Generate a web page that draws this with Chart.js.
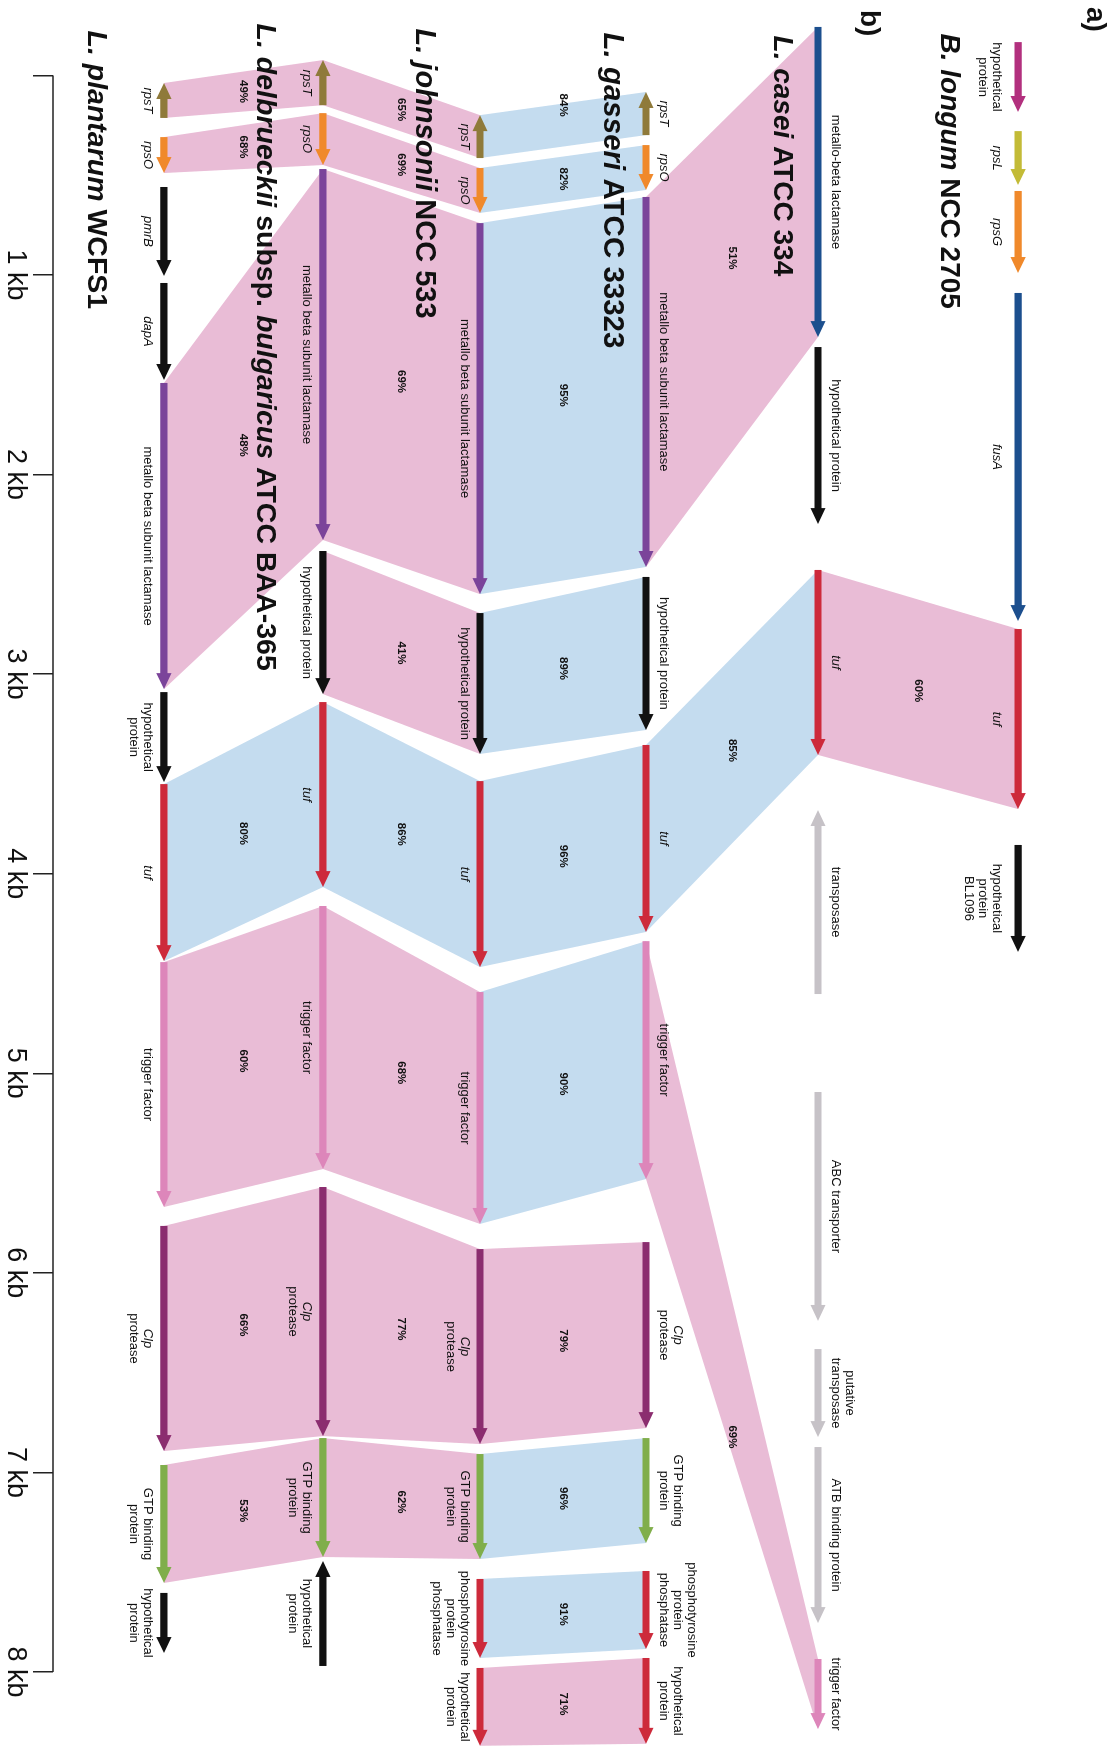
<!DOCTYPE html>
<html><head><meta charset="utf-8">
<script src="https://cdn.jsdelivr.net/npm/chart.js@4.4.1/dist/chart.umd.min.js"></script>
<style>
html,body{margin:0;padding:0;background:#fff;}
#wrap{position:relative;width:1119px;height:1746px;overflow:hidden;background:#fff;}
#c{position:absolute;left:1119px;top:0;transform-origin:0 0;transform:rotate(90deg);}
</style></head><body>
<div id="wrap"><canvas id="c" width="1746" height="1119"></canvas></div>
<script>
// ================= DATA =================
const kbTicks = [0, 1, 2, 3, 4, 5, 6, 7, 8];

const titleParts = [
  [['B. longum', 1], [' NCC 2705', 0]],
  [['L. casei', 1], [' ATCC 334', 0]],
  [['L. gasseri', 1], [' ATCC 33323', 0]],
  [['L. johnsonii', 1], [' NCC 533', 0]],
  [['L. delbrueckii', 1], [' subsp. ', 0], ['bulgaricus', 1], [' ATCC BAA-365', 0]],
  [['L. plantarum', 1], [' WCFS1', 0]]
];

// B. longum NCC 2705
const longumStart = [-0.167, 0.279, 0.579, 1.090, 2.774, 3.856];
const longumEnd   = [0.183, 0.549, 0.990, 2.734, 3.676, 4.392];
const longumType  = ['hyp', 'rpsL', 'rps', 'nav', 'tuf', 'blk'];
const longumDir   = [1, 1, 1, 1, 1, 1];
const longumLabel = ['hypothetical\nprotein', '*rpsL*', '*rpsG*', '*fusA*', '*tuf*', 'hypothetical\nprotein\nBL1096'];

// L. casei ATCC 334
const caseiStart = [-0.243, 1.361, 2.478, 3.681, 5.094, 6.382, 6.873, 7.935];
const caseiEnd   = [1.311, 2.248, 3.405, 4.603, 6.241, 6.823, 7.755, 8.286];
const caseiType  = ['nav', 'blk', 'tuf', 'gry', 'gry', 'gry', 'gry', 'tf'];
const caseiDir   = [1, 1, 1, -1, 1, 1, 1, 1];
const caseiLabel = ['metallo-beta lactamase', 'hypothetical protein', '*tuf*', 'transposase', 'ABC transporter', 'putative\ntransposase', 'ATB binding protein', 'trigger factor'];

// L. gasseri ATCC 33323
const gasseriStart = [0.083, 0.349, 0.609, 2.513, 3.355, 4.338, 5.846, 6.828, 7.494, 7.930];
const gasseriEnd   = [0.299, 0.574, 2.463, 3.280, 4.292, 5.530, 6.778, 7.354, 7.885, 8.36];
const gasseriType  = ['rpsT', 'rps', 'mbl', 'blk', 'tuf', 'tf', 'clp', 'gtp', 'tuf', 'tuf'];
const gasseriDir   = [-1, 1, 1, 1, 1, 1, 1, 1, 1, 1];
const gasseriLabel = ['*rpsT*', '*rpsO*', 'metallo beta subunit lactamase', 'hypothetical protein', '*tuf*', 'trigger factor', '*Clp*\nprotease', 'GTP binding\nprotein', 'phosphotyrosine\nprotein\nphosphatase', 'hypothetical\nprotein'];

// L. johnsonii NCC 533
const johnsoniiStart = [0.199, 0.464, 0.740, 2.694, 3.536, 4.593, 5.881, 6.908, 7.534, 7.980];
const johnsoniiEnd   = [0.414, 0.689, 2.599, 3.400, 4.468, 5.755, 6.858, 7.434, 7.930, 8.37];
const johnsoniiType  = ['rpsT', 'rps', 'mbl', 'blk', 'tuf', 'tf', 'clp', 'gtp', 'tuf', 'tuf'];
const johnsoniiDir   = [-1, 1, 1, 1, 1, 1, 1, 1, 1, 1];
const johnsoniiLabel = ['*rpsT*', '*rpsO*', 'metallo beta subunit lactamase', 'hypothetical protein', '*tuf*', 'trigger factor', '*Clp*\nprotease', 'GTP binding\nprotein', 'phosphotyrosine\nprotein\nphosphatase', 'hypothetical\nprotein'];

// L. delbrueckii subsp. bulgaricus ATCC BAA-365
const delbStart = [-0.077, 0.189, 0.469, 2.383, 3.140, 4.162, 5.570, 6.828, 7.444];
const delbEnd   = [0.149, 0.449, 2.328, 3.100, 4.067, 5.480, 6.818, 7.424, 7.970];
const delbType  = ['rpsT', 'rps', 'mbl', 'blk', 'tuf', 'tf', 'clp', 'gtp', 'blk'];
const delbDir   = [-1, 1, 1, 1, 1, 1, 1, 1, -1];
const delbLabel = ['*rpsT*', '*rpsO*', 'metallo beta subunit lactamase', 'hypothetical protein', '*tuf*', 'trigger factor', '*Clp*\nprotease', 'GTP binding\nprotein', 'hypothetical\nprotein'];

// L. plantarum WCFS1
const plantarumStart = [0.038, 0.309, 0.559, 1.040, 1.541, 3.090, 3.551, 4.443, 5.765, 6.963, 7.604];
const plantarumEnd   = [0.213, 0.489, 1.005, 1.526, 3.075, 3.541, 4.438, 5.670, 6.893, 7.554, 7.905];
const plantarumType  = ['rpsT', 'rps', 'blk', 'blk', 'mbl', 'blk', 'tuf', 'tf', 'clp', 'gtp', 'blk'];
const plantarumDir   = [-1, 1, 1, 1, 1, 1, 1, 1, 1, 1, 1];
const plantarumLabel = ['*rpsT*', '*rpsO*', '*pmrB*', '*dapA*', 'metallo beta subunit lactamase', 'hypothetical\nprotein', '*tuf*', 'trigger factor', '*Clp*\nprotease', 'GTP binding\nprotein', 'hypothetical\nprotein'];

// homology links between lane k and lane k+1
const linkLane     = [0, 1, 1, 1, 2, 2, 2, 2, 2, 2, 2, 2, 2, 2, 3, 3, 3, 3, 3, 3, 3, 3, 4, 4, 4, 4, 4, 4, 4];
const linkGeneA    = [4, 0, 2, 7, 0, 1, 2, 3, 4, 5, 6, 7, 8, 9, 0, 1, 2, 3, 4, 5, 6, 7, 0, 1, 2, 4, 5, 6, 7];
const linkGeneB    = [2, 2, 4, 5, 0, 1, 2, 3, 4, 5, 6, 7, 8, 9, 0, 1, 2, 3, 4, 5, 6, 7, 0, 1, 4, 6, 7, 8, 9];
const linkIdentity = [60, 51, 85, 69, 84, 82, 95, 89, 96, 90, 79, 96, 91, 71, 65, 69, 69, 41, 86, 68, 77, 62, 49, 68, 48, 80, 60, 66, 53];

// ================= LAYOUT / STYLE =================
const lanes = [
  {s: longumStart, e: longumEnd, t: longumType, d: longumDir, l: longumLabel},
  {s: caseiStart, e: caseiEnd, t: caseiType, d: caseiDir, l: caseiLabel},
  {s: gasseriStart, e: gasseriEnd, t: gasseriType, d: gasseriDir, l: gasseriLabel},
  {s: johnsoniiStart, e: johnsoniiEnd, t: johnsoniiType, d: johnsoniiDir, l: johnsoniiLabel},
  {s: delbStart, e: delbEnd, t: delbType, d: delbDir, l: delbLabel},
  {s: plantarumStart, e: plantarumEnd, t: plantarumType, d: plantarumDir, l: plantarumLabel}
];
const lanePos = [0, 1.205, 2.241, 3.241, 4.187, 5.145];
const labelSide = [1, -1, -1, 1, 1, 1];      // 1 = below the arrow, -1 = above
const labelGap  = [15, 10, 10, 9, 10, 10];   // px
const titleDy   = [69, 36, 34, 56, 58, 68];  // px from lane centre
const titleKb   = [-0.21, -0.20, -0.215, -0.235, -0.26, -0.225];
const titleSize = [28, 28, 29.5, 29, 28.5, 28.5];
// label nudges (kb) for a few identity labels that sit off-centre
const pctShift = {1: -0.12, 3: 0.3, 4: -0.1};

const GENE_COLORS = {
  hyp: '#b2307e', rpsL: '#c3bb37', rps: '#f0892b', nav: '#1c4f8e', tuf: '#cd2a3b',
  blk: '#111111', gry: '#c6c2c7', tf: '#dd86ba', mbl: '#7b449a', clp: '#8b2d6f',
  gtp: '#80ae4b', rpsT: '#8f7a3a'
};
const PINK = 'rgb(233,188,214)';
const BLUE = 'rgb(196,220,239)';
const FONT = '"Liberation Sans", Arial, Helvetica, sans-serif';

const HEAD_KB = 0.08;          // arrow head length in kb
const SHAFT = 3.6 / 166;       // half shaft width in lane units
const HEAD = 7.6 / 166;        // half head width in lane units

// ================= DATASETS =================
const datasets = [];

// links (drawn below arrows)
for (let i = 0; i < linkLane.length; i++) {
  const a = linkLane[i], b = a + 1;
  const A = lanes[a], B = lanes[b];
  const ga = linkGeneA[i], gb = linkGeneB[i];
  datasets.push({
    data: [
      {x: A.s[ga], y: lanePos[a]}, {x: B.s[gb], y: lanePos[b]},
      {x: B.e[gb], y: lanePos[b]}, {x: A.e[ga], y: lanePos[a]}
    ],
    backgroundColor: linkIdentity[i] >= 80 ? BLUE : PINK,
    borderWidth: 0, pointRadius: 0, fill: 'shape', order: 2
  });
}

// gene arrows
lanes.forEach((L, li) => {
  const y = lanePos[li];
  for (let g = 0; g < L.s.length; g++) {
    const s = L.s[g], e = L.e[g];
    const h = Math.min(HEAD_KB, (e - s) * 0.6);
    let pts;
    if (L.d[g] > 0) {
      pts = [[s, y - SHAFT], [e - h, y - SHAFT], [e - h, y - HEAD], [e, y], [e - h, y + HEAD], [e - h, y + SHAFT], [s, y + SHAFT]];
    } else {
      pts = [[e, y - SHAFT], [s + h, y - SHAFT], [s + h, y - HEAD], [s, y], [s + h, y + HEAD], [s + h, y + SHAFT], [e, y + SHAFT]];
    }
    datasets.push({
      data: pts.map(p => ({x: p[0], y: p[1]})),
      backgroundColor: GENE_COLORS[L.t[g]],
      borderWidth: 0, pointRadius: 0, fill: 'shape', order: 1
    });
  }
});

// ================= TEXT PLUGIN =================
function drawRich(ctx, text, x, y, size, weight, align) {
  const parts = text.split('*');
  const fonts = parts.map((p, i) => (i % 2 ? 'italic ' : '') + weight + ' ' + size + 'px ' + FONT);
  let w = 0;
  parts.forEach((p, i) => { ctx.font = fonts[i]; w += ctx.measureText(p).width; });
  let cx = align === 'center' ? x - w / 2 : x;
  ctx.textAlign = 'left';
  parts.forEach((p, i) => { ctx.font = fonts[i]; ctx.fillText(p, cx, y); cx += ctx.measureText(p).width; });
}

const textPlugin = {
  id: 'texts',
  afterDraw(chart) {
    const ctx = chart.ctx, xs = chart.scales.x, ys = chart.scales.y;
    ctx.save();
    ctx.fillStyle = '#111';
    // axis baseline from 0 to 8 kb
    ctx.strokeStyle = '#222'; ctx.lineWidth = 1.5;
    ctx.beginPath();
    ctx.moveTo(xs.getPixelForValue(kbTicks[0]), xs.top);
    ctx.lineTo(xs.getPixelForValue(kbTicks[kbTicks.length - 1]), xs.top);
    ctx.stroke();

    // gene labels
    ctx.textBaseline = 'top';
    lanes.forEach((L, li) => {
      const yp = ys.getPixelForValue(lanePos[li]);
      for (let g = 0; g < L.s.length; g++) {
        const xc = xs.getPixelForValue((L.s[g] + L.e[g]) / 2);
        const lines = L.l[g].split('\n');
        const lh = 14;
        lines.forEach((ln, k) => {
          let top;
          if (labelSide[li] > 0) top = yp + labelGap[li] + k * lh;
          else top = yp - labelGap[li] - (lines.length - k) * lh;
          drawRich(ctx, ln, xc, top, 13, 'normal', 'center');
        });
      }
    });

    // identity labels
    ctx.textBaseline = 'middle';
    for (let i = 0; i < linkLane.length; i++) {
      const a = linkLane[i], b = a + 1;
      const A = lanes[a], B = lanes[b];
      let mx = ((A.s[linkGeneA[i]] + A.e[linkGeneA[i]]) / 2 + (B.s[linkGeneB[i]] + B.e[linkGeneB[i]]) / 2) / 2;
      mx += pctShift[i] || 0;
      const my = (lanePos[a] + lanePos[b]) / 2;
      drawRich(ctx, linkIdentity[i] + '%', xs.getPixelForValue(mx), ys.getPixelForValue(my), 11.5, 'bold', 'center');
    }

    // genome titles
    titleParts.forEach((parts, li) => {
      const yp = ys.getPixelForValue(lanePos[li]) + titleDy[li];
      let x = xs.getPixelForValue(titleKb[li]);
      parts.forEach(([txt, it]) => {
        ctx.font = (it ? 'italic ' : '') + 'bold ' + titleSize[li] + 'px ' + FONT;
        ctx.textAlign = 'left';
        ctx.fillText(txt, x, yp);
        x += ctx.measureText(txt).width;
      });
    });

    // panel letters
    ctx.font = 'bold 28px ' + FONT;
    ctx.fillText('a)', xs.getPixelForValue(-0.343), ys.getPixelForValue(lanePos[0]) - 77);
    ctx.fillText('b)', xs.getPixelForValue(-0.328), ys.getPixelForValue(lanePos[1]) - 51);
    ctx.restore();
  }
};

// ================= CHART =================
new Chart(document.getElementById('c'), {
  type: 'line',
  data: {datasets},
  options: {
    responsive: false,
    animation: false,
    events: [],
    layout: {padding: 0},
    elements: {line: {tension: 0}},
    plugins: {legend: {display: false}, tooltip: {enabled: false}, title: {display: false}},
    scales: {
      x: {
        type: 'linear', position: 'bottom',
        min: -0.378, max: 8.371,
        afterBuildTicks(scale) { scale.ticks = kbTicks.map(v => ({value: v})); },
        afterFit(scale) { scale.height = 53; },
        border: {display: false},
        grid: {drawOnChartArea: false, drawTicks: true, tickLength: 20, color: '#222', lineWidth: 1.5},
        ticks: {
          autoSkip: false, maxRotation: 0, minRotation: 0, padding: 1,
          color: '#111', font: {size: 27, family: FONT},
          callback: v => (v === 0 ? '' : v + ' kb')
        }
      },
      y: {
        type: 'linear', display: false, reverse: true,
        min: -0.608, max: 5.813
      }
    }
  },
  plugins: [textPlugin]
});
</script>
</body></html>
